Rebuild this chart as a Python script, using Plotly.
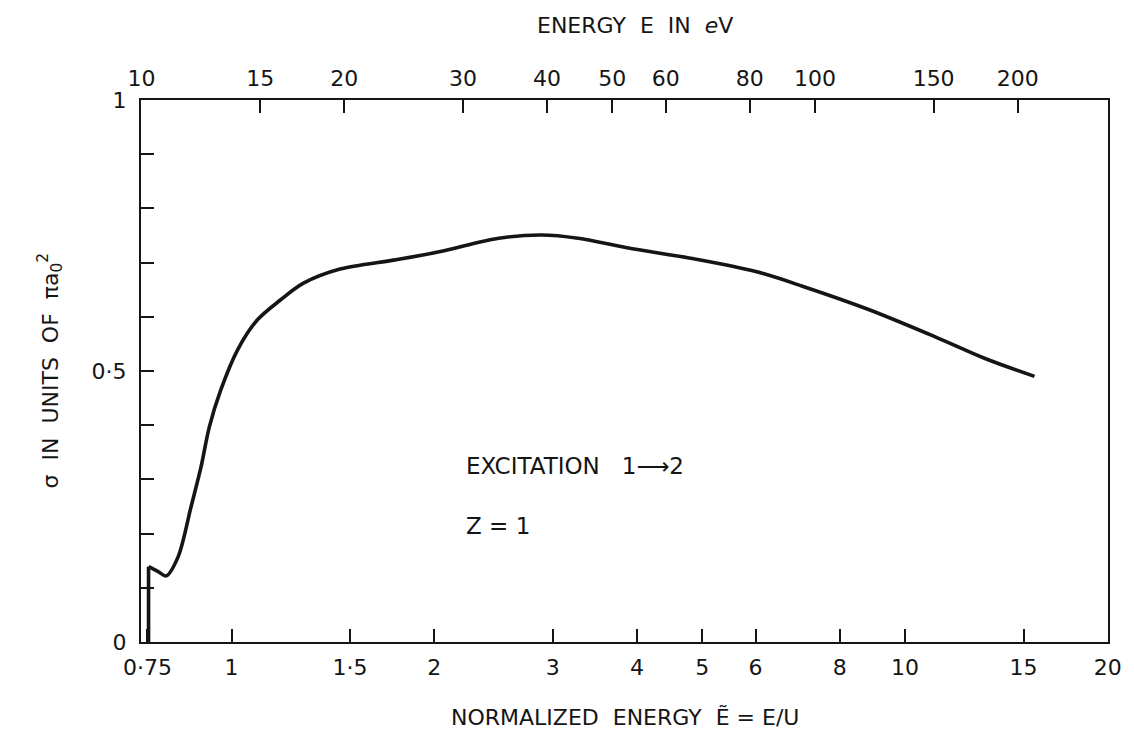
import plotly.graph_objects as go
import math

# Normalized energy E~ = E/U and cross-section sigma (units of pi a0^2)
E_norm = [0.753, 0.753, 0.778, 0.800, 0.833, 0.871, 0.901, 0.927, 0.964, 1.021,
          1.092, 1.182, 1.279, 1.449, 1.75, 2.034, 2.494, 2.888, 3.271, 3.92,
          4.804, 6.024, 7.06, 8.85, 11.09, 13.15, 15.57]
sigma = [0.0, 0.139, 0.130, 0.122, 0.157, 0.250, 0.323, 0.397, 0.465, 0.539,
         0.594, 0.631, 0.662, 0.688, 0.705, 0.720, 0.745, 0.751, 0.745, 0.726,
         0.708, 0.683, 0.656, 0.613, 0.563, 0.523, 0.490]

U_eV = 13.6  # ionization energy used for top axis

bottom_tickvals = [0.75, 1, 1.5, 2, 3, 4, 5, 6, 8, 10, 15, 20]
bottom_ticktext = ["0·75", "1", "1·5", "2", "3", "4", "5", "6", "8", "10", "15", "20"]
top_tickvals = [10, 15, 20, 30, 40, 50, 60, 80, 100, 150, 200]
top_ticktext = ["10", "15", "20", "30", "40", "50", "60", "80", "100", "150", "200"]
y_tickvals = [0, 0.1, 0.2, 0.3, 0.4, 0.5, 0.6, 0.7, 0.8, 0.9, 1.0]
y_ticktext = ["0", " ", " ", " ", " ", "0·5", " ", " ", " ", " ", "1"]

FONT = "DejaVu Sans"
INK = "#151515"
FS = 22

xmin, xmax = 9.98 / U_eV, 20.02

fig = go.Figure()
# threshold jump (vertical rise)
fig.add_trace(go.Scatter(x=E_norm[:2], y=sigma[:2], mode="lines",
                         line=dict(color=INK, width=3.6),
                         hoverinfo="skip", showlegend=False))
# smooth curve
fig.add_trace(go.Scatter(x=E_norm[1:], y=sigma[1:], mode="lines",
                         line=dict(color=INK, width=3.6, shape="spline", smoothing=0.9),
                         hoverinfo="skip", showlegend=False))
# invisible companion trace on the eV axis so it is drawn
fig.add_trace(go.Scatter(x=[e * U_eV for e in E_norm], y=sigma, mode="lines",
                         xaxis="x2", line=dict(color="rgba(0,0,0,0)"),
                         hoverinfo="skip", showlegend=False))

fig.update_layout(
    width=1134, height=738,
    margin=dict(l=141, r=21, t=100, b=96),
    paper_bgcolor="white", plot_bgcolor="white",
    font=dict(family=FONT, color=INK, size=FS),
    xaxis=dict(type="log", range=[math.log10(xmin), math.log10(xmax)],
               tickvals=bottom_tickvals, ticktext=bottom_ticktext,
               ticks="inside", ticklen=13, tickwidth=1.6, tickcolor=INK,
               showline=True, linecolor=INK, linewidth=2, mirror=False,
               showgrid=False, zeroline=False, ticklabelstandoff=5,
               tickfont=dict(size=FS)),
    xaxis2=dict(type="log", overlaying="x", side="top",
                range=[math.log10(xmin * U_eV), math.log10(xmax * U_eV)],
                tickvals=top_tickvals, ticktext=top_ticktext,
                ticks="inside", ticklen=13, tickwidth=1.6, tickcolor=INK,
                showline=True, linecolor=INK, linewidth=2,
                showgrid=False, zeroline=False, ticklabelstandoff=3,
                tickfont=dict(size=FS)),
    yaxis=dict(range=[0, 1], tickvals=y_tickvals, ticktext=y_ticktext,
               ticks="inside", ticklen=13, tickwidth=1.6, tickcolor=INK,
               showline=True, linecolor=INK, linewidth=2, mirror=True,
               showgrid=False, zeroline=False, ticklabelstandoff=8,
               tickfont=dict(size=FS)),
)

PW = 1134 - 141 - 21
PH = 738 - 100 - 96


def px(x):
    return (x - 141) / PW


def py(y):
    return (738 - 96 - y) / PH


fig.add_annotation(text="ENERGY  E  IN  <i>e</i>V", xref="paper", yref="paper",
                   x=px(638), y=py(25), showarrow=False,
                   xanchor="center", yanchor="middle",
                   font=dict(size=FS, family=FONT, color=INK))
fig.add_annotation(text="NORMALIZED  ENERGY  Ẽ = E/U", xref="paper", yref="paper",
                   x=px(628), y=py(717), showarrow=False,
                   xanchor="center", yanchor="middle",
                   font=dict(size=FS, family=FONT, color=INK))
fig.add_annotation(text="σ  IN  UNITS  OF  πa<sub>0</sub><sup>2</sup>", xref="paper", yref="paper",
                   x=px(50), y=py(370), textangle=-90, showarrow=False,
                   xanchor="center", yanchor="middle",
                   font=dict(size=FS, family=FONT, color=INK))
fig.add_annotation(text="EXCITATION   1⟶2", xref="paper", yref="paper",
                   x=px(466), y=py(466), showarrow=False,
                   xanchor="left", yanchor="middle",
                   font=dict(size=23, family=FONT, color=INK))
fig.add_annotation(text="Z = 1", xref="paper", yref="paper",
                   x=px(466), y=py(526), showarrow=False,
                   xanchor="left", yanchor="middle",
                   font=dict(size=23, family=FONT, color=INK))

fig.write_html("out.html")
